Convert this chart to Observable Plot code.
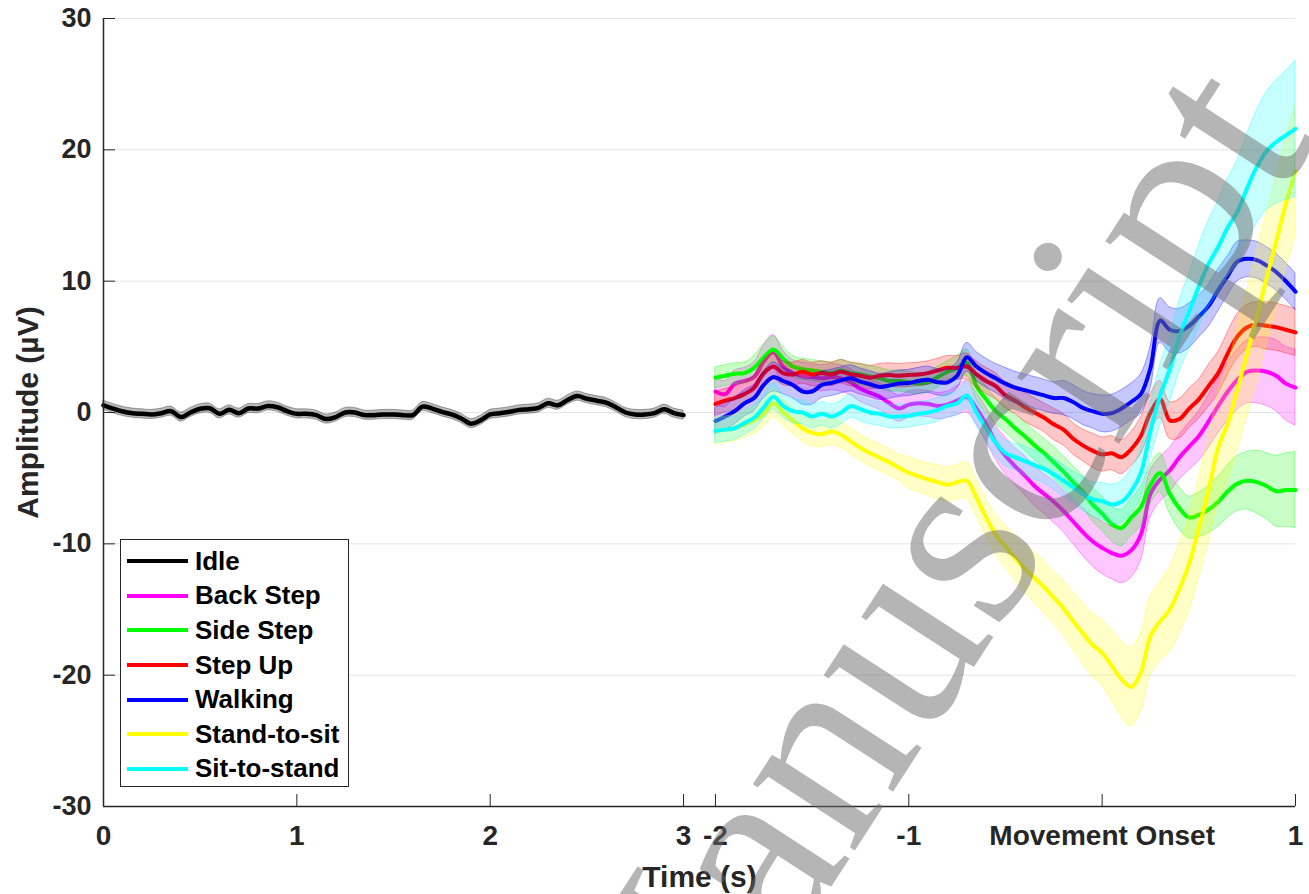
<!DOCTYPE html>
<html><head><meta charset="utf-8">
<script src="https://cdn.jsdelivr.net/npm/d3@7"></script>
<script src="https://cdn.jsdelivr.net/npm/@observablehq/plot@0.6"></script>
<style>
html,body{margin:0;padding:0;background:#fff;}
#wrap{position:relative;width:1309px;height:894px;overflow:hidden;}
#legend{position:absolute;left:120px;top:539px;width:229px;height:248px;border:1px solid #262626;background:#fff;box-sizing:border-box;padding-top:4px;font-family:"Liberation Sans",Arial,sans-serif;font-weight:bold;font-size:26px;color:#000;}
.row{display:flex;align-items:center;height:34.6px;white-space:nowrap;}
.sw{width:61px;height:4px;margin-left:6px;margin-right:7px;}
</style></head><body><div id="wrap"></div>
<script>
// ---- data ----
const idleValues = [
  0.55,0.3,0.08,-0.05,-0.1,-0.15,-0.05,0.1,-0.35,0.0,
  0.28,0.32,-0.1,0.2,-0.05,0.3,0.3,0.5,0.4,0.1,
  -0.1,-0.1,-0.2,-0.5,-0.35,0.0,0.0,-0.2,-0.2,-0.15,
  -0.15,-0.2,-0.2,0.45,0.3,0.05,-0.15,-0.45,-0.85,-0.6,
  -0.15,-0.05,0.05,0.2,0.25,0.35,0.7,0.55,0.95,1.25,
  1.05,0.9,0.75,0.4,0.0,-0.15,-0.15,-0.05,0.25,-0.05,
  -0.2];
const idleErr = [
  0.35,0.35,0.35,0.35,0.35,0.35,0.35,0.35,0.35,0.35,
  0.35,0.35,0.35,0.35,0.35,0.35,0.35,0.35,0.35,0.35,
  0.35,0.35,0.35,0.35,0.35,0.35,0.35,0.35,0.35,0.35,
  0.35,0.35,0.35,0.35,0.35,0.35,0.35,0.35,0.35,0.35,
  0.35,0.35,0.35,0.35,0.35,0.35,0.35,0.35,0.35,0.35,
  0.35,0.35,0.35,0.35,0.35,0.35,0.35,0.35,0.35,0.35,
  0.35];

const categories = ["Back Step","Side Step","Step Up","Walking","Stand-to-sit","Sit-to-stand"];
const colors = ["#ff00ff","#00ff00","#ff0000","#0000ff","#ffff00","#00ffff"];

const backStep = [
  1.6,1.4,2.2,2.4,2.7,3.9,4.6,3.5,3.0,2.8,
  2.7,2.6,2.7,2.6,2.3,1.8,1.5,1.2,0.7,0.3,
  0.6,0.7,0.65,0.5,0.6,0.9,1.2,0.3,-0.9,-2.3,
  -3.3,-4.1,-4.8,-5.6,-6.2,-6.8,-7.5,-8.3,-9.1,-9.8,
  -10.3,-10.7,-10.9,-10.5,-9.3,-6.2,-5.1,-4.4,-3.4,-2.6,
  -1.8,-0.7,0.5,1.6,2.5,3.1,3.2,3.1,2.8,2.2,
  1.9];
const sideStep = [
  2.65,2.8,2.95,3.0,3.4,4.2,4.8,4.1,3.5,3.3,
  3.2,3.1,3.0,3.2,3.0,2.9,2.75,2.6,2.4,2.4,
  2.3,2.2,2.3,2.7,3.1,3.4,3.8,2.0,1.0,0.1,
  -0.5,-1.2,-1.8,-2.5,-3.1,-3.8,-4.5,-5.3,-6.0,-7.0,
  -7.7,-8.5,-8.8,-8.0,-7.2,-5.5,-4.6,-6.2,-7.3,-8.0,
  -7.8,-7.4,-6.8,-6.0,-5.4,-5.2,-5.3,-5.6,-6.0,-5.9,
  -5.9];
const stepUp = [
  0.65,0.9,1.1,1.4,1.9,3.0,3.5,3.0,2.9,3.1,
  2.9,3.0,2.9,3.1,2.9,2.8,2.65,2.8,2.85,2.8,
  2.85,2.9,3.0,3.2,3.4,3.4,3.5,2.9,2.4,2.0,
  1.3,0.9,0.4,0.0,-0.4,-0.9,-1.3,-2.0,-2.5,-2.9,
  -3.2,-3.1,-3.4,-2.8,-1.8,0.0,1.0,-0.6,-0.5,0.3,
  1.0,2.0,3.0,4.5,5.8,6.5,6.7,6.6,6.5,6.3,
  6.1];
const walking = [
  -0.65,-0.3,0.1,0.7,1.1,2.1,2.7,2.4,2.1,1.6,
  1.6,2.1,2.25,2.45,2.6,2.35,2.15,1.95,2.05,2.2,
  2.25,2.4,2.5,2.3,2.3,2.8,4.2,3.5,3.0,2.6,
  2.2,1.9,1.7,1.5,1.3,1.1,1.1,0.8,0.35,0.1,
  -0.1,-0.05,0.3,0.8,1.4,3.4,7.0,6.3,6.2,6.6,
  7.3,8.1,9.3,10.4,11.5,11.7,11.6,11.2,10.7,10.0,
  9.2];
const standToSit = [
  -1.4,-1.3,-1.2,-0.9,-0.6,-0.1,0.7,0.0,-0.6,-1.2,
  -1.55,-1.65,-1.45,-1.7,-2.2,-2.7,-3.1,-3.45,-3.8,-4.2,
  -4.6,-4.85,-5.1,-5.3,-5.5,-5.3,-5.2,-6.5,-8.0,-9.3,
  -10.2,-11.1,-11.9,-12.6,-13.3,-14.1,-14.9,-15.9,-16.8,-17.7,
  -18.3,-19.3,-20.3,-20.9,-19.8,-17.0,-15.9,-15.0,-13.4,-11.5,
  -8.8,-5.9,-2.7,-0.8,1.8,4.5,7.3,10.2,13.0,15.9,
  18.4];
const sitToStand = [
  -1.4,-1.3,-1.2,-0.8,-0.4,0.4,1.2,0.5,0.1,0.0,
  -0.3,-0.1,-0.3,0.0,0.5,0.25,0.0,-0.1,-0.3,-0.3,
  -0.25,-0.1,0.0,0.2,0.5,0.7,1.3,0.0,-1.2,-2.3,
  -3.1,-3.4,-3.7,-4.0,-4.3,-4.7,-5.2,-5.7,-6.2,-6.6,
  -6.75,-7.0,-6.8,-6.0,-4.6,-1.4,1.3,3.3,5.8,7.7,
  9.6,11.3,12.6,14.1,15.3,17.1,18.7,19.9,20.6,21.1,
  21.6];

const backStepErr = [
  1.0,1.0,1.0,1.0,1.1,1.2,1.3,1.2,1.0,1.0,
  1.0,1.0,1.0,1.0,1.0,1.0,1.0,1.0,1.0,1.0,
  1.0,1.0,1.0,1.0,1.0,1.1,1.2,1.2,1.3,1.3,
  1.4,1.4,1.5,1.5,1.5,1.6,1.6,1.7,1.8,1.9,
  2.0,2.0,2.1,2.1,2.0,1.8,1.7,1.7,1.7,1.8,
  1.9,2.0,2.1,2.2,2.3,2.4,2.5,2.6,2.7,2.8,
  2.9];
const sideStepErr = [
  0.8,0.8,0.8,0.8,0.9,1.0,1.0,0.9,0.8,0.8,
  0.8,0.8,0.8,0.8,0.8,0.8,0.8,0.8,0.8,0.8,
  0.8,0.8,0.8,0.8,0.8,0.9,1.0,1.0,1.0,1.0,
  1.0,1.0,1.1,1.1,1.1,1.2,1.2,1.2,1.2,1.3,
  1.3,1.3,1.4,1.4,1.5,1.5,1.5,1.5,1.6,1.6,
  1.7,1.8,1.9,2.0,2.1,2.2,2.4,2.5,2.7,2.8,
  2.9];
const stepUpErr = [
  0.9,0.9,0.9,0.9,0.9,1.0,1.0,0.9,0.9,0.9,
  0.9,0.9,0.9,0.9,0.9,0.9,0.9,0.9,0.9,0.9,
  0.9,0.9,0.9,0.9,0.9,0.9,1.0,1.0,1.0,1.0,
  1.0,1.0,1.1,1.1,1.1,1.2,1.2,1.2,1.2,1.3,
  1.3,1.3,1.3,1.3,1.4,1.4,1.4,1.4,1.5,1.5,
  1.5,1.6,1.6,1.6,1.7,1.7,1.7,1.8,1.8,1.8,
  1.8];
const walkingErr = [
  1.0,1.0,1.0,1.0,1.0,1.0,1.1,1.0,1.0,1.0,
  1.0,1.0,1.0,1.0,1.0,1.0,1.0,1.0,1.0,1.0,
  1.0,1.0,1.0,1.0,1.0,1.0,1.1,1.1,1.1,1.1,
  1.2,1.2,1.2,1.2,1.2,1.2,1.3,1.3,1.3,1.3,
  1.4,1.4,1.4,1.4,1.5,1.6,1.7,1.7,1.7,1.7,
  1.6,1.6,1.6,1.5,1.5,1.4,1.4,1.4,1.4,1.4,
  1.4];
const standToSitErr = [
  1.0,1.0,1.0,1.0,1.0,1.0,1.1,1.0,1.0,1.0,
  1.0,1.0,1.0,1.0,1.0,1.0,1.0,1.0,1.0,1.0,
  1.2,1.2,1.2,1.3,1.3,1.3,1.4,1.4,1.4,1.5,
  1.6,1.7,1.8,1.9,2.0,2.0,2.1,2.2,2.3,2.4,
  2.5,2.7,2.9,3.0,3.0,3.0,3.0,3.2,3.4,3.6,
  3.8,4.0,4.2,4.4,4.6,4.8,5.0,5.0,5.0,5.0,
  5.0];
const sitToStandErr = [
  0.9,0.9,0.9,0.9,0.9,0.9,1.0,0.9,0.9,0.9,
  0.9,0.9,0.9,0.9,0.9,0.9,0.9,0.9,0.9,0.9,
  0.9,0.9,0.9,0.9,0.9,0.9,1.0,1.0,1.0,1.0,
  1.0,1.0,1.1,1.1,1.1,1.2,1.2,1.2,1.3,1.3,
  1.4,1.5,1.6,1.7,1.9,2.1,2.3,2.5,2.7,2.9,
  3.1,3.3,3.5,3.7,3.9,4.1,4.3,4.5,4.7,4.9,
  5.2];

const seriesValues = [backStep, sideStep, stepUp, walking, standToSit, sitToStand];
const seriesErr = [backStepErr, sideStepErr, stepUpErr, walkingErr, standToSitErr, sitToStandErr];

const idleTimes = d3.range(61).map(i => i * 0.05);        // 0 .. 3 s
const moveTimes = d3.range(61).map(i => -2 + i * 0.05);   // -2 .. 1 s around onset
const onsetOffset = 5.165;                                // second panel shift on shared axis

const xTickPos = [0, 1, 2, 3, 3.165, 4.165, 5.165, 6.165];
const xTickLabels = ["0", "1", "2", "3", "-2", "-1", "Movement Onset", "1"];
const yTicks = [-30, -20, -10, 0, 10, 20, 30];

// ---- build ----
const xLabelMap = new Map(xTickPos.map((p, i) => [p, xTickLabels[i]]));
const idleRows = idleTimes.map((t, i) => ({x: t, y: idleValues[i], lo: idleValues[i] - idleErr[i], hi: idleValues[i] + idleErr[i]}));

const marks = [
  Plot.gridY(yTicks, {stroke: "#e4e4e4", strokeOpacity: 1, strokeWidth: 1}),
  Plot.areaY(idleRows, {x: "x", y1: "lo", y2: "hi", fill: "#000", fillOpacity: 0.28, stroke: "#000", strokeOpacity: 0.3, strokeWidth: 1, curve: "catmull-rom"}),
  Plot.line(idleRows, {x: "x", y: "y", stroke: "#000", strokeWidth: 4.5, curve: "catmull-rom"})
];
categories.forEach((name, k) => {
  const vals = seriesValues[k], err = seriesErr[k];
  const rows = moveTimes.map((t, i) => ({x: t + onsetOffset, y: vals[i], lo: vals[i] - err[i], hi: vals[i] + err[i]}));
  marks.push(
    Plot.areaY(rows, {x: "x", y1: "lo", y2: "hi", fill: colors[k], fillOpacity: 0.22, stroke: colors[k], strokeOpacity: 0.35, strokeWidth: 1, curve: "catmull-rom"}),
    Plot.line(rows, {x: "x", y: "y", stroke: colors[k], strokeWidth: 4, curve: "catmull-rom"})
  );
});
marks.push(
  Plot.ruleY([-30], {stroke: "#262626", strokeWidth: 1.5}),
  Plot.ruleX([0], {stroke: "#262626", strokeWidth: 1.5}),
  Plot.ruleX(xTickPos, {stroke: "#262626", strokeWidth: 1, insetTop: 776}),
  Plot.ruleY(yTicks, {stroke: "#262626", strokeWidth: 1, insetRight: 1180}),
  Plot.axisY(yTicks, {tickSize: 0, tickPadding: 12, label: null, fontSize: 27, tickFormat: d => String(d)}),
  Plot.axisX(xTickPos, {tickSize: 0, tickPadding: 19, label: null, fontSize: 28, tickFormat: d => xLabelMap.get(d)}),
  Plot.text(["Amplitude (µV)"], {frameAnchor: "left", dx: -75, rotate: -90, fontSize: 30, fontWeight: "bold", textAnchor: "middle", lineAnchor: "middle"}),
  Plot.text(["Time (s)"], {frameAnchor: "bottom", dy: 71, fontSize: 30, fontWeight: "bold", textAnchor: "middle", lineAnchor: "middle"}),
  Plot.text(["Manuscript"], {frameAnchor: "top-left", dx: 1213, dy: 121, rotate: -57, fontSize: 265, fontFamily: "Liberation Serif", fontWeight: "normal", fill: "#6b6b6b", fillOpacity: 0.5, textAnchor: "end", lineAnchor: "bottom"})
);

const chart = Plot.plot({
  width: 1309, height: 894,
  marginLeft: 103, marginRight: 14, marginTop: 18, marginBottom: 88,
  x: {domain: [0, 6.165]},
  y: {domain: [-30, 30]},
  style: {fontFamily: "'Liberation Sans', Arial, sans-serif", fontSize: "27px", fontWeight: "bold", color: "#262626", background: "#fff"},
  marks
});
const wrap = document.getElementById("wrap");
wrap.appendChild(chart);

// legend (inside the axes, lower left)
const legendNames = ["Idle", ...categories];
const legendColors = ["#000000", ...colors];
const lg = document.createElement("div");
lg.id = "legend";
legendNames.forEach((n, i) => {
  const r = document.createElement("div");
  r.className = "row";
  const s = document.createElement("span");
  s.className = "sw";
  s.style.background = legendColors[i];
  const t = document.createElement("span");
  t.textContent = n;
  r.appendChild(s); r.appendChild(t);
  lg.appendChild(r);
});
wrap.appendChild(lg);
</script></body></html>
